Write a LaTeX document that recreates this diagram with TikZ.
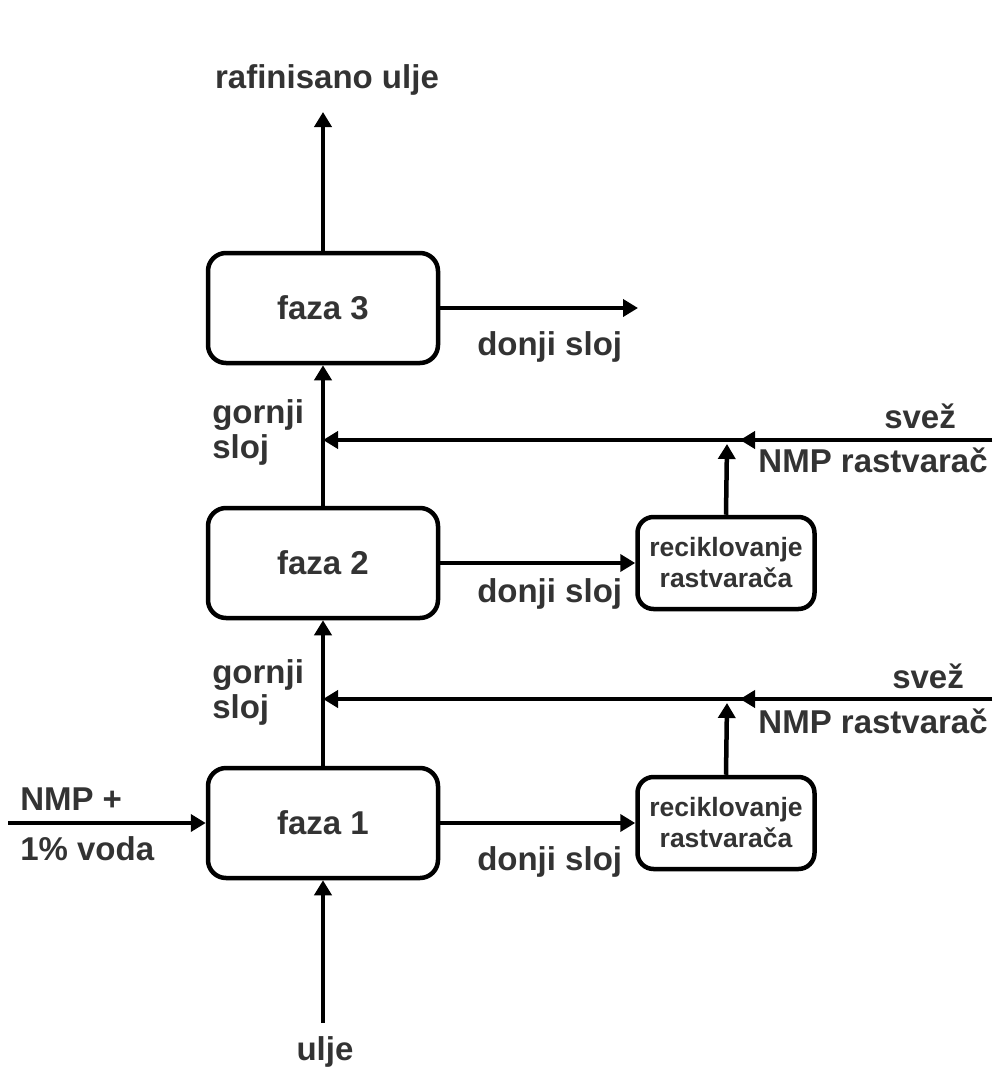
\documentclass[tikz,border=0pt]{standalone}
\usepackage{fontspec}
\setmainfont{Liberation Sans}
\usetikzlibrary{arrows.meta}
\definecolor{txt}{HTML}{333333}
\begin{document}
\begin{tikzpicture}[x=1pt,y=-1pt,
  line width=4.5pt,
  flow/.style={-{Triangle[length=15pt,width=17pt]}},
  fazabox/.style={draw, rounded corners=18pt, minimum width=230pt, minimum height=110pt,
    text=txt, font=\fontsize{33}{38}\selectfont\bfseries, inner sep=0pt},
  recbox/.style={draw, rounded corners=16pt, minimum width=177pt, minimum height=92pt,
    text=txt, font=\fontsize{26.5}{31}\selectfont\bfseries, align=center, inner sep=0pt},
  lbl/.style={text=txt, font=\fontsize{33}{38}\selectfont\bfseries, inner sep=0pt}
]
\useasboundingbox (0,0) rectangle (998,1068);

% boxes
\node[fazabox] (f3) at (323,308) {faza 3};
\node[fazabox] (f2) at (323,563) {faza 2};
\node[fazabox] (f1) at (323,823) {faza 1};
\node[recbox] (r2) at (726,563) {reciklovanje\\rastvarača};
\node[recbox] (r1) at (726,823) {reciklovanje\\rastvarača};

% coordinates
\coordinate (top) at (323,112);
\coordinate (bot) at (323,1023);
\coordinate (in) at (8,823);
\coordinate (out3) at (638,308);
\coordinate (j2) at (323,440);
\coordinate (j1) at (323,699);
\coordinate (s2) at (992,440);
\coordinate (s1) at (992,699);
\coordinate (m2) at (740,440);
\coordinate (m1) at (740,699);
\coordinate (v2) at (727,444);
\coordinate (v1) at (727,703);

% connectors
\draw[flow] (f3.north) -- (top);
\draw[flow] (f3.east) -- (out3);
\draw[flow] (f2.north) -- (f3.south);
\draw[flow] (f1.north) -- (f2.south);
\draw[flow] (bot) -- (f1.south);
\draw[flow] (in) -- (f1.west);
\draw[flow] (f2.east) -- (r2.west);
\draw[flow] (f1.east) -- (r1.west);
\draw[flow] (s2) -- (j2);
\draw[flow] (s2) -- (m2);
\draw[flow] (s1) -- (j1);
\draw[flow] (s1) -- (m1);
\draw[flow] (r2.north) -- (v2);
\draw[flow] (r1.north) -- (v1);

% labels
\node[lbl, anchor=base] (lraf) at (327,88) {rafinisano ulje};
\node[lbl, anchor=base west] (ld3) at (475,355) {donji sloj};
\node[lbl, anchor=base west] (lg2a) at (210,423) {gornji};
\node[lbl, anchor=base west] (lg2b) at (210,458) {sloj};
\node[lbl, anchor=base west] (ls2) at (882,428) {svež};
\node[lbl, anchor=base east] (ln2) at (990,472) {NMP rastvarač};
\node[lbl, anchor=base west] (ld2) at (475,602) {donji sloj};
\node[lbl, anchor=base west] (lg1a) at (210,683) {gornji};
\node[lbl, anchor=base west] (lg1b) at (210,718) {sloj};
\node[lbl, anchor=base west] (ls1) at (890,688) {svež};
\node[lbl, anchor=base east] (ln1) at (990,733) {NMP rastvarač};
\node[lbl, anchor=base west] (lnmp) at (18,810) {NMP +};
\node[lbl, anchor=base west] (lvoda) at (18,860) {1\% voda};
\node[lbl, anchor=base west] (ld1) at (475,870) {donji sloj};
\node[lbl, anchor=base] (lulje) at (325,1060) {ulje};
\end{tikzpicture}
\end{document}
